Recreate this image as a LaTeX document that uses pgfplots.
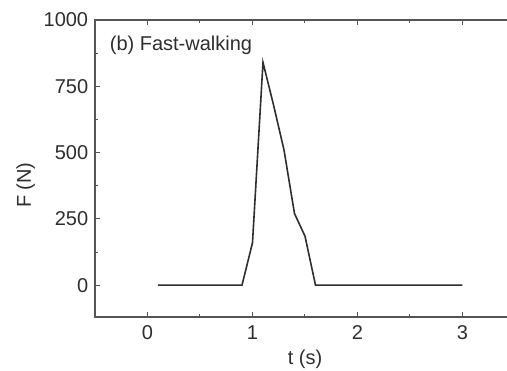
\documentclass[border=0pt]{standalone}
\usepackage{pgfplots}
\pgfplotsset{compat=1.18}
\usepackage{fontspec}
\setmainfont{Liberation Sans}
\definecolor{ink}{HTML}{2E2E2E}
\definecolor{axc}{HTML}{555555}
\begin{document}
\fontsize{20}{24}\selectfont
\begin{tikzpicture}
\begin{axis}[
  scale only axis,
  width=420pt, height=297pt,
  xmin=-0.5, xmax=3.5, ymin=-120, ymax=1000,
  xtick={0,1,2,3}, ytick={0,250,500,750,1000},
  minor xtick={-0.5,0.5,1.5,2.5,3.5},
  minor ytick={-125,125,375,625,875},
  tick align=inside,
  major tick length=5pt, minor tick length=3pt,
  tick style={axc, line width=1pt},
  axis line style={axc, line width=1.2pt},
  ticklabel style={font=\fontsize{20}{24}\selectfont, text=ink},
  /pgf/number format/assume math mode=true,
  /pgf/number format/1000 sep={},
  xticklabel style={yshift=-2pt},
  xlabel={t (s)}, ylabel={F (N)},
  label style={font=\fontsize{20}{24}\selectfont, text=ink},
  xlabel style={yshift=4pt},
  ylabel style={at={(ticklabel cs:0.444)}, yshift=-5pt},
  clip=false,
]
\addplot[ink, line width=1.6pt, mark=none] coordinates {
  (0.1,0) (0.9,0) (1.0,160) (1.1,840) (1.2,680) (1.3,510) (1.4,270) (1.5,185) (1.6,0) (3.0,0)
};
\node[anchor=west, text=ink, font=\fontsize{20}{24}\selectfont] at ([xshift=8pt,yshift=-25pt]rel axis cs:0,1) {(b) Fast-walking};
\end{axis}
\pgfresetboundingbox
\path[use as bounding box] ([xshift=-95pt,yshift=-54pt]current axis.south west) rectangle ([xshift=412pt,yshift=20pt]current axis.north west);
\end{tikzpicture}
\end{document}
